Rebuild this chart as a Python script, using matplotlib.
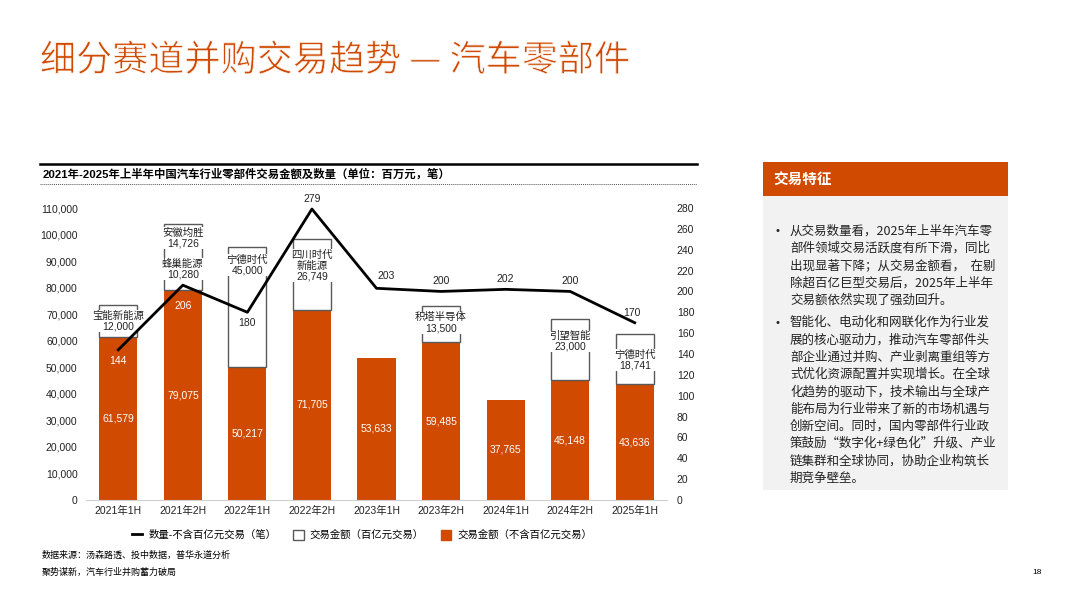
import matplotlib
matplotlib.use("Agg")
import matplotlib.pyplot as plt
import matplotlib.patheffects as pe
from matplotlib.lines import Line2D
from matplotlib.patches import Patch, Rectangle

plt.rcParams['font.family'] = ['Liberation Sans', 'Noto Sans CJK SC', 'DejaVu Sans']

# data
periods = ["2021年1H", "2021年2H", "2022年1H", "2022年2H", "2023年1H",
           "2023年2H", "2024年1H", "2024年2H", "2025年1H"]
amount_base = [61579, 79075, 50217, 71705, 53633, 59485, 37765, 45148, 43636]
mega_names = [["宝能新能源"], ["蜂巢能源", "安徽均胜"], ["宁德时代"], ["四川时代\n新能源"], [],
              ["积塔半导体"], [], ["引望智能"], ["宁德时代"]]
mega_vals = [[12000], [10280, 14726], [45000], [26749], [],
             [13500], [], [23000], [18741]]
deal_count = [144, 206, 180, 279, 203, 200, 202, 200, 170]

bullets = [
    ["从交易数量看，2025年上半年汽车零",
     "部件领域交易活跃度有所下滑，同比",
     "出现显著下降；从交易金额看，  在剔",
     "除超百亿巨型交易后，2025年上半年",
     "交易额依然实现了强劲回升。"],
    ["智能化、电动化和网联化作为行业发",
     "展的核心驱动力，推动汽车零部件头",
     "部企业通过并购、产业剥离重组等方",
     "式优化资源配置并实现增长。在全球",
     "化趋势的驱动下，技术输出与全球产",
     "能布局为行业带来了新的市场机遇与",
     "创新空间。同时，国内零部件行业政",
     "策鼓励“数字化+绿色化”升级、产业",
     "链集群和全球协同，协助企业构筑长",
     "期竞争壁垒。"],
]

ORANGE = "#d04a02"
EDGE = "#595959"
CJK = ['Noto Sans CJK SC', 'DejaVu Sans']

W, H = 1080, 607
fig = plt.figure(figsize=(W / 100, H / 100), dpi=100)


def fx(px):
    return px / W


def fy(py):
    return 1 - py / H


# title (thinned a little to look like a light weight)
fig.text(fx(40), fy(61), "细分赛道并购交易趋势 — 汽车零部件", color=ORANGE,
         fontsize=26, va="center", ha="left", family=CJK,
         path_effects=[pe.Normal(), pe.Stroke(linewidth=0.6, foreground="white")])

# chart subtitle with rules
fig.add_artist(Line2D([fx(40), fx(697)], [fy(164), fy(164)], color="black", lw=1.8))
fig.text(fx(43), fy(174), "2021年-2025年上半年中国汽车行业零部件交易金额及数量（单位：百万元，笔）",
         fontsize=8.2, weight="bold", va="center", ha="left")
fig.add_artist(Line2D([fx(40), fx(697)], [fy(184), fy(184)], color="#555555",
                      lw=0.7, ls=(0, (1, 1))))

# main axes
ax = fig.add_axes([fx(86), fy(500), fx(667) - fx(86), fy(208) - fy(500)])
ax2 = ax.twinx()
x = list(range(len(periods)))
bw = 0.59

ax.bar(x, amount_base, width=bw, color=ORANGE, zorder=2)

# label offsets below each mega box top (pixels)
mega_off = [[6], [-4, 4], [7], [11], [], [6], [], [12], [15]]
for i in x:
    bottom = amount_base[i]
    for j, v in enumerate(mega_vals[i]):
        ax.bar(i, v, bottom=bottom, width=bw, color="white", edgecolor=EDGE,
               linewidth=1.0, zorder=2)
        top = bottom + v
        ax.annotate(mega_names[i][j] + "\n" + f"{v:,}", (i, top),
                    xytext=(0, -mega_off[i][j]), textcoords="offset pixels",
                    ha="center", va="top", fontsize=7.5, linespacing=1.1,
                    color="#222222", zorder=4,
                    bbox=dict(boxstyle="square,pad=0.05", fc="white", ec="none"))
        bottom = top
    ax.text(i, amount_base[i] / 2, f"{amount_base[i]:,}", ha="center", va="center",
            color="white", fontsize=7.5, zorder=4)

ax.set_xlim(-0.5, len(periods) - 0.5)
ax.set_ylim(0, 110000)
ax.set_yticks(range(0, 110001, 10000))
ax.set_yticklabels([f"{v:,}" for v in range(0, 110001, 10000)])
ax.set_xticks(x)
ax.set_xticklabels(periods)
ax.tick_params(axis="both", length=0, labelsize=7.5, colors="#222222")
ax.tick_params(axis="y", pad=6)
ax.tick_params(axis="x", pad=4)
for s in ["top", "right", "left"]:
    ax.spines[s].set_visible(False)
    ax2.spines[s].set_visible(False)
ax.spines["bottom"].set_color("#d0d0d0")
ax2.spines["bottom"].set_visible(False)

ax2.plot(x, deal_count, color="black", lw=2.0, zorder=5, clip_on=False)
ax2.set_ylim(0, 280)
ax2.set_yticks(range(0, 281, 20))
ax2.tick_params(axis="y", length=0, labelsize=7.5, colors="#222222", pad=7)
ax.set_zorder(ax2.get_zorder() - 1)
ax.patch.set_visible(False)

count_off = [(0, -11), (0, -21), (0, -11), (0, 10), (10, 12), (0, 10), (0, 10), (0, 10), (-3, 10)]
count_col = ["white", "white", "#222222", "#222222", "#222222", "#222222",
             "#222222", "#222222", "#222222"]
for i in x:
    ax2.annotate(str(deal_count[i]), (i, deal_count[i]), xytext=count_off[i],
                 textcoords="offset pixels", ha="center", va="center",
                 fontsize=7.5, color=count_col[i], zorder=6)

# legend
handles = [Line2D([0], [0], color="black", lw=2),
           Patch(facecolor="white", edgecolor=EDGE, linewidth=1.0),
           Patch(facecolor=ORANGE, edgecolor=ORANGE)]
labels = ["数量-不含百亿元交易（笔）", "交易金额（百亿元交易）", "交易金额（不含百亿元交易）"]
fig.legend(handles, labels, loc="center", bbox_to_anchor=(fx(362), fy(535)), ncol=3,
           frameon=False, fontsize=7.5, handlelength=1.0, handleheight=1.1,
           columnspacing=1.6, handletextpad=0.6)

# right panel
fig.add_artist(Rectangle((fx(763), fy(490)), fx(1008) - fx(763), fy(196) - fy(490),
                         transform=fig.transFigure, fc="#f2f2f2", ec="none"))
fig.add_artist(Rectangle((fx(763), fy(196)), fx(1008) - fx(763), fy(162) - fy(196),
                         transform=fig.transFigure, fc=ORANGE, ec="none"))
fig.text(fx(773), fy(179), "交易特征", color="white", fontsize=10.5, weight="bold",
         va="center", ha="left", family=CJK)

y0 = 231
step = 17.3
for k, lines in enumerate(bullets):
    fig.text(fx(776), fy(y0), "•", fontsize=8, va="center", ha="left", color="#222222")
    for n, line in enumerate(lines):
        fig.text(fx(790), fy(y0 + n * step), line, fontsize=9.0, va="center", ha="left",
                 color="#222222", family=CJK)
    y0 = y0 + len(lines) * step + 5

# footnotes
fig.text(fx(42), fy(555), "数据来源：汤森路透、投中数据，普华永道分析", fontsize=6.5,
         va="center", ha="left", family=CJK)
fig.text(fx(42), fy(572), "聚势谋新，汽车行业并购蓄力破局", fontsize=6.5,
         va="center", ha="left", family=CJK)
fig.text(fx(1042), fy(572), "18", fontsize=6, va="center", ha="right")

fig.savefig("out.png", dpi=100)
